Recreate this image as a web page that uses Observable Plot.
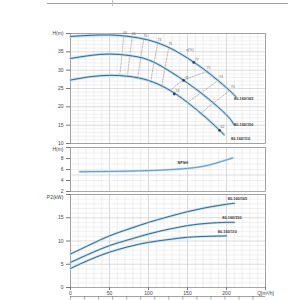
<!DOCTYPE html>
<html><head><meta charset="utf-8">
<script src="https://cdn.jsdelivr.net/npm/d3@7"></script>
<script src="https://cdn.jsdelivr.net/npm/@observablehq/plot@0.6"></script>
<style>
body{margin:0;background:#fff;}
#wrap{position:relative;width:300px;height:300px;overflow:hidden;background:#fff;}
.topline{position:absolute;left:47px;top:3px;width:241px;border-top:1px solid #a0a0a0;}
.topmark{position:absolute;left:112px;top:0;height:6px;border-left:1px solid #c0c0c0;}
</style></head><body>
<div id="wrap"><div class="topline"></div><div class="topmark"></div></div>
<script>
// ---------- data ----------
const models = ["80-160/165", "80-160/150", "80-160/110"];
// H-Q curves
const Q165 = [0, 25, 50, 75, 100, 125, 150, 175, 200, 212];
const H165 = [39.2, 39.5, 39.6, 39.2, 38.2, 36.3, 33.3, 29.6, 25.2, 22.8];
const Q150 = [0, 25, 50, 75, 100, 125, 150, 175, 200, 210];
const H150 = [33.2, 34.0, 34.4, 34.0, 32.8, 30.0, 26.5, 22.5, 17.8, 15.0];
const Q110 = [0, 25, 50, 75, 100, 125, 150, 175, 197];
const H110 = [27.3, 28.2, 28.6, 28.3, 27.2, 24.8, 21.2, 16.8, 12.4];
// iso-efficiency lines (top, middle, bottom curve crossings)
const isoId = ["60", "65", "70", "73", "75", "77", "73r", "70r"];
const isoQ = [[68, 66, 63], [79, 76, 73], [94, 90, 86], [112, 107, 103], [126, 121, 117],
              [175, 145, 128], [190, 167, 150], [204, 183, 167]];
const isoH = [[39.3, 34.1, 28.4], [39.0, 33.9, 28.3], [38.5, 33.3, 27.8], [37.3, 32.0, 26.9], [36.2, 30.5, 25.6],
              [29.6, 27.2, 24.4], [27.3, 23.8, 21.2], [24.4, 21.0, 18.2]];
// efficiency labels
const effText = ["60", "65", "70", "73", "75", "75", "73", "70", "η(%)"];
const effQ = [70, 81, 96, 114, 128, 177, 193, 208, 153];
const effH = [40.2, 39.9, 39.4, 38.2, 37.1, 30.6, 28.3, 25.4, 35.4];
// best efficiency dots
const bepQ = [158, 145, 133, 191];
const bepH = [32.1, 27.2, 23.5, 13.6];
const bepText = ["77", "76", "74", "62"];
// model labels top panel
const labQH = [222, 222, 218];
const labHH = [22.3, 15.2, 11.4];
// NPSH
const npshQ = [12, 50, 100, 150, 180, 208];
const npshH = [5.6, 5.65, 5.8, 6.2, 6.9, 8.1];
// P2 curves
const QP = [0, 25, 50, 75, 100, 125, 150, 175, 200, 210];
const P165 = [7.2, 9.2, 11.1, 12.6, 14.0, 15.2, 16.3, 17.2, 17.9, 18.1];
const P150 = [5.4, 7.3, 9.0, 10.3, 11.5, 12.5, 13.3, 13.8, 14.0, 14.0];
const QP110 = [0, 25, 50, 75, 100, 125, 150, 175, 200];
const P110 = [4.1, 6.0, 7.6, 8.8, 9.7, 10.3, 10.8, 11.0, 11.1];
const labQP = [214, 207, 201];
const labPP = [19.0, 15.0, 11.9];
// ticks
const qTicks = [0, 50, 100, 150, 200, 250];
const hTicks = [10, 15, 20, 25, 30, 35, 40];
const npTicks = [2, 4, 6, 8, 10];
const pTicks = [0, 5, 10, 15, 20];
const lsTicks = d3.range(0, 70, 5);

// ---------- tables ----------
const hq = [
  ...Q165.map((q, i) => ({m: models[0], q, h: H165[i]})),
  ...Q150.map((q, i) => ({m: models[1], q, h: H150[i]})),
  ...Q110.map((q, i) => ({m: models[2], q, h: H110[i]}))
];
const iso = isoId.flatMap((id, k) => isoQ[k].map((q, j) => ({id, q, h: isoH[k][j]})));
const eff = effText.map((t, i) => ({t, q: effQ[i], h: effH[i]}));
const bep = bepQ.map((q, i) => ({q, h: bepH[i], t: bepText[i]}));
const labTop = models.map((m, i) => ({m, q: labQH[i], h: labHH[i]}));
const npsh = npshQ.map((q, i) => ({q, h: npshH[i]}));
const pq = [
  ...QP.map((q, i) => ({m: models[0], q, p: P165[i]})),
  ...QP.map((q, i) => ({m: models[1], q, p: P150[i]})),
  ...QP110.map((q, i) => ({m: models[2], q, p: P110[i]}))
];
const labP = models.map((m, i) => ({m, q: labQP[i], p: labPP[i]}));

// ---------- styling ----------
const W = 300, ML = 70, MR = 35;
const FONT = "'Liberation Sans', Arial, sans-serif";
const style = {fontFamily: FONT, fontSize: "5px", background: "transparent", overflow: "visible"};
const gridQ = d3.range(0, 251, 10);
const LINE = "#356b93", HALO = "#bcd9ec";
const vgrid = () => Plot.ruleX(gridQ, {stroke: d => d % 50 === 0 ? "#bdbdbd" : "#e2e2e2", strokeWidth: 0.6});
const hgrid = (arr) => Plot.ruleY(arr, {stroke: d => d % 5 === 0 ? "#c6c6c6" : "#e6e6e6", strokeWidth: 0.6});
// axis: the top tick gets the unit label (drawn separately, shifted down a little)
const yaxis = (ticks, top) => Plot.axisY(ticks, {anchor: "left", tickSize: 4, tickPadding: 3, fontSize: 5,
  stroke: "#777", fill: "#444", label: null, tickFormat: d => d === top ? "" : d});
const unitLabel = (txt, yv, dy) => Plot.text([txt], {x: 0, y: yv, text: d => d, dx: -7, dy, textAnchor: "end",
  fontSize: 5, fill: "#444"});

const wrap = document.getElementById("wrap");
function place(svg, top) { svg.style.position = "absolute"; svg.style.left = "0px"; svg.style.top = top + "px"; wrap.appendChild(svg); }

// top panel H-Q
const p1 = Plot.plot({
  width: W, height: 145, marginLeft: ML, marginRight: MR, marginTop: 33, marginBottom: 2, style,
  x: {domain: [0, 250], axis: null},
  y: {domain: [10, 40], axis: null},
  marks: [
    vgrid(), hgrid(d3.range(10, 40.1, 1)),
    Plot.frame({stroke: "#8a8a8a", strokeWidth: 0.7}),
    yaxis(hTicks, 40),
    unitLabel("H(m)", 40, 0),
    Plot.line(iso, {x: "q", y: "h", z: "id", stroke: "#8e8e8e", strokeWidth: 0.6, strokeDasharray: "2,1.4", curve: "natural"}),
    Plot.line(hq, {x: "q", y: "h", z: "m", stroke: HALO, strokeWidth: 2.6, curve: "natural"}),
    Plot.line(hq, {x: "q", y: "h", z: "m", stroke: LINE, strokeWidth: 1, curve: "natural"}),
    Plot.dot(bep, {x: "q", y: "h", r: 1.4, fill: "#1f4a6e", stroke: "none"}),
    Plot.text(bep, {x: "q", y: "h", text: "t", dx: 3, dy: -3, fontSize: 3.5, fill: "#666"}),
    Plot.text(eff, {x: "q", y: "h", text: "t", fontSize: 3.5, fill: "#666"}),
    Plot.text(labTop, {x: "q", y: "h", text: "m", fontSize: 3.8, fill: "#333", fontWeight: "bold"})
  ]
});
place(p1, 0);

// middle panel NPSH
const p2 = Plot.plot({
  width: W, height: 48, marginLeft: ML, marginRight: MR, marginTop: 2, marginBottom: 2, style,
  x: {domain: [0, 250], axis: null},
  y: {domain: [2, 10], axis: null},
  marks: [
    vgrid(), hgrid(d3.range(2, 10.1, 1)),
    Plot.frame({stroke: "#8a8a8a", strokeWidth: 0.7}),
    yaxis(npTicks, 10),
    unitLabel("H(m)", 10, 2),
    Plot.line(npsh, {x: "q", y: "h", stroke: HALO, strokeWidth: 2.4, curve: "natural"}),
    Plot.line(npsh, {x: "q", y: "h", stroke: "#5b93ba", strokeWidth: 0.9, curve: "natural"}),
    Plot.text(["NPSH"], {x: 144, y: 7.3, text: d => d, fontSize: 3.8, fill: "#333", fontWeight: "bold"})
  ]
});
place(p2, 145);

// bottom panel P2
const p3 = Plot.plot({
  width: W, height: 107, marginLeft: ML, marginRight: MR, marginTop: 1, marginBottom: 13, style,
  x: {domain: [0, 250], axis: null},
  y: {domain: [0, 20], axis: null},
  marks: [
    vgrid(), hgrid(d3.range(0, 20.1, 1)),
    Plot.frame({stroke: "#8a8a8a", strokeWidth: 0.7}),
    yaxis(pTicks, 20),
    unitLabel("P2(kW)", 20, 3),
    Plot.axisX(qTicks, {anchor: "bottom", tickSize: 3, tickPadding: 1, fontSize: 5, stroke: "#777", fill: "#444",
      label: null, tickFormat: d => d === 250 ? "Q[m³/h]" : d}),
    Plot.line(pq, {x: "q", y: "p", z: "m", stroke: HALO, strokeWidth: 2.4, curve: "natural"}),
    Plot.line(pq, {x: "q", y: "p", z: "m", stroke: LINE, strokeWidth: 1, curve: "natural"}),
    Plot.text(labP, {x: "q", y: "p", text: "m", fontSize: 3.8, fill: "#333", fontWeight: "bold"})
  ]
});
place(p3, 193);

// secondary flow axis (l/s), cut off at the bottom
const p4 = Plot.plot({
  width: W, height: 6, marginLeft: ML, marginRight: MR, marginTop: 0, marginBottom: 0, style,
  x: {domain: [0, 250 / 3.6], axis: null},
  y: {domain: [0, 1], axis: null, range: [6, 0]},
  marks: [
    Plot.ruleY([0.99], {stroke: "#777", strokeWidth: 0.7}),
    Plot.ruleX(lsTicks, {x: d => d, y1: 0.99, y2: 0.4, stroke: "#777", strokeWidth: 0.6})
  ]
});
place(p4, 296);
</script>
</body></html>
